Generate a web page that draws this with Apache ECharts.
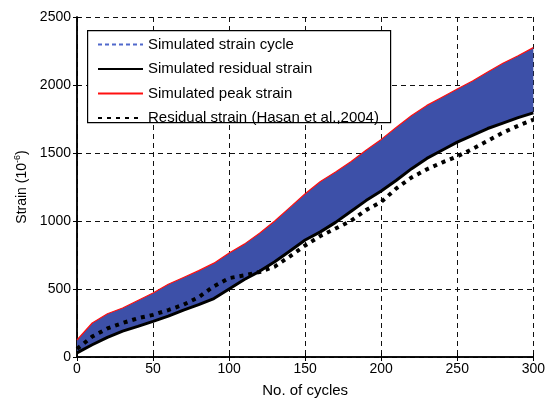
<!DOCTYPE html>
<html>
<head>
<meta charset="utf-8">
<script src="https://cdn.jsdelivr.net/npm/echarts@6/dist/echarts.min.js"></script>
<style>html,body{margin:0;padding:0;background:#fff;}#c{width:548px;height:403px;}</style>
</head>
<body>
<div id="c"></div>
<script>
// Data
const cycles = [0,10,20,30,40,50,60,70,80,90,100,110,120,130,140,150,160,170,180,190,200,210,220,230,240,250,260,270,280,290,300];
const peakStrain = [125,250,318,360,415,470,535,585,635,690,765,830,910,1000,1100,1200,1290,1360,1435,1520,1600,1690,1775,1850,1910,1970,2030,2095,2160,2215,2275];
const residualStrain = [30,90,145,190,225,262,300,345,385,430,500,570,630,700,780,860,920,990,1070,1150,1220,1300,1385,1460,1520,1580,1630,1680,1720,1760,1795];
const expCycles = [0,10,20,30,40,50,60,70,80,90,100,110,120,130,140,150,160,170,180,190,200,210,220,230,240,250,260,270,280,290,300];
const expResidual = [60,150,210,250,285,310,345,385,440,520,580,600,625,665,740,820,890,945,1000,1080,1140,1240,1320,1380,1430,1475,1530,1590,1650,1700,1745];
const xTicks = {min:0, max:300, interval:50};
const yTicks = {min:0, max:2500, interval:500};

const FONT = 'Liberation Sans, Arial, sans-serif';
const chart = echarts.init(document.getElementById('c'), null, {renderer:'canvas'});
const pair = (xs, ys) => xs.map((x,i)=>[x, ys[i]]);
const bandRows = cycles.map((x,i)=>[x, residualStrain[i], peakStrain[i]]);
const gridLine = {show:true, lineStyle:{color:'#111', type:[5,4], width:1}};

chart.setOption({
  animation:false,
  backgroundColor:'#fff',
  grid:{left:77, right:14, top:17, bottom:41},
  xAxis:[{
    type:'value', min:xTicks.min, max:xTicks.max, interval:xTicks.interval,
    name:'No. of cycles', nameLocation:'middle', nameGap:26,
    nameTextStyle:{fontFamily:FONT, fontSize:15, color:'#000'},
    axisLine:{show:true, lineStyle:{color:'#000', width:1.5}},
    axisTick:{show:true, inside:true, length:4, lineStyle:{color:'#000'}},
    axisLabel:{fontFamily:FONT, fontSize:14, color:'#000', margin:5},
    splitLine:gridLine
  },{
    type:'value', position:'top', min:xTicks.min, max:xTicks.max, interval:xTicks.interval,
    axisLine:{show:true, lineStyle:{color:'#000', width:1.5}},
    axisTick:{show:true, inside:true, length:4, lineStyle:{color:'#000'}},
    axisLabel:{show:false}, splitLine:{show:false}
  }],
  yAxis:[{
    type:'value', min:yTicks.min, max:yTicks.max, interval:yTicks.interval,
    name:'{a|Strain (10}{s|-6}{a|)}', nameLocation:'middle', nameGap:43,
    nameTextStyle:{rich:{a:{fontFamily:FONT, fontSize:14, color:'#000'}, s:{fontFamily:FONT, fontSize:9, color:'#000', verticalAlign:'top', lineHeight:18}}},
    axisLine:{show:true, lineStyle:{color:'#000', width:1.5}},
    axisTick:{show:true, inside:true, length:4, lineStyle:{color:'#000'}},
    axisLabel:{fontFamily:FONT, fontSize:14, color:'#000', margin:6, formatter:v=>String(v)},
    splitLine:gridLine
  },{
    type:'value', position:'right', min:yTicks.min, max:yTicks.max, interval:yTicks.interval,
    axisLine:{show:true, lineStyle:{color:'#000', width:1.5}},
    axisTick:{show:true, inside:true, length:4, lineStyle:{color:'#000'}},
    axisLabel:{show:false}, splitLine:{show:false}
  }],
  graphic:[{
    type:'rect', left:87, top:30, z:3,
    shape:{width:303, height:92},
    style:{fill:'#fff', stroke:'#000', lineWidth:1.2}
  }],
  legend:{
    orient:'vertical', left:87, top:30, z:5,
    padding:[7,8,8,10], itemWidth:45, itemHeight:12, itemGap:9.5,
    itemStyle:{opacity:0},
    textStyle:{fontFamily:FONT, fontSize:15, color:'#000'},
    data:[
      {name:'Simulated strain cycle'},
      {name:'Simulated residual strain'},
      {name:'Simulated peak strain'},
      {name:'Residual strain (Hasan et al.,2004)'}
    ]
  },
  series:[
    {
      name:'Simulated strain cycle', type:'line', symbol:'none', data:[],
      lineStyle:{color:'#5069cc', type:[4,3], width:1.5}, itemStyle:{color:'#5069cc'}
    },
    {
      name:'Simulated strain cycle', type:'custom',
      data:[0],
      encode:{x:-1, y:-1},
      itemStyle:{color:'#5069cc'},
      renderItem:function(params, api){
        const upper = bandRows.map(r=>api.coord([r[0], r[2]]));
        const lower = bandRows.map(r=>api.coord([r[0], r[1]])).reverse();
        return {type:'polygon', shape:{points:upper.concat(lower)}, style:{fill:'#3d50a8', stroke:null}};
      },
      z:1
    },
    {
      name:'Simulated peak strain', type:'line', symbol:'none',
      data:pair(cycles, peakStrain),
      lineStyle:{color:'#ff1010', width:1.2}, itemStyle:{color:'#ff1010'}
    },
    {
      name:'Simulated residual strain', type:'line', symbol:'none',
      data:pair(cycles, residualStrain),
      lineStyle:{color:'#000', width:3}, itemStyle:{color:'#000'}
    },
    {
      name:'Residual strain (Hasan et al.,2004)', type:'line', symbol:'none',
      data:pair(expCycles, expResidual),
      lineStyle:{color:'#000', width:4, type:[4,5], cap:'butt'}, itemStyle:{color:'#000'}
    }
  ]
});
</script>
</body>
</html>
